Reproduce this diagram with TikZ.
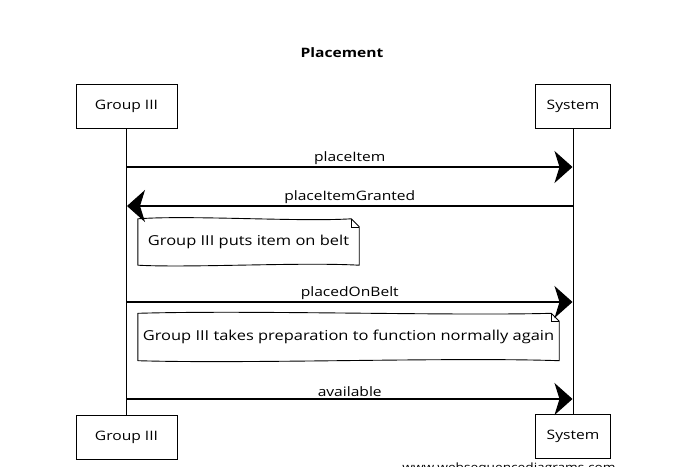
\documentclass[tikz,border=0pt]{standalone}
\usepackage{fontspec}
\setmainfont[FakeStretch=1.2]{Open Sans}
\usetikzlibrary{arrows.meta}
\begin{document}
\begin{tikzpicture}[x=1pt,y=-1pt,
  txt/.style={font=\fontsize{13}{15}\selectfont},
  actor/.style={txt, draw, line width=1pt, minimum height=44pt, inner sep=0pt},
  life/.style={line width=0.8pt},
  msg/.style={line width=1.1pt, -{Stealth[length=18pt,width=32pt,inset=5pt]}},
  lbl/.style={txt, above, inner sep=2pt},
  notetext/.style={font=\fontsize{13.7}{16}\selectfont, inner sep=0pt},
  noteline/.style={line width=0.9pt, line join=round}
]
\useasboundingbox (0,0) rectangle (679,466);

% title
\node[txt, font=\fontsize{13}{15}\selectfont\bfseries] (title) at (342,53) {Placement};

% actors
\node[actor, minimum width=101pt] (gt) at (126.5,106) {Group III};
\node[actor, minimum width=75pt]  (st) at (573,106) {System};
\node[actor, minimum width=101pt] (gb) at (126.5,437) {Group III};
\node[actor, minimum width=75pt]  (sb) at (573,436) {System};

% lifelines
\draw[life] (gt.south) -- (gb.north);
\draw[life] (st.south) -- (sb.north);

% message anchor points
\coordinate (g1) at (127,167);  \coordinate (s1) at (572.5,167);
\coordinate (g2) at (127,206);  \coordinate (s2) at (572.5,206);
\coordinate (g3) at (127,302);  \coordinate (s3) at (572.5,302);
\coordinate (g4) at (127,399);  \coordinate (s4) at (572.5,399);

\draw[msg] (g1) -- node[lbl] {placeItem} (s1);
\draw[msg] (s2) -- node[lbl] {placeItemGranted} (g2);
\draw[msg] (g3) -- node[lbl] {placedOnBelt} (s3);
\draw[msg] (g4) -- node[lbl] {available} (s4);

% note 1
\node[notetext, minimum width=221pt, minimum height=46pt] (n1) at (248.5,242) {Group III puts item on belt};
\draw[noteline] (n1.north west) .. controls (190,215) and (300,222) .. ([xshift=-8pt]n1.north east)
  -- ([yshift=-8pt]n1.north east) -- (n1.south east)
  .. controls (300,262) and (190,268) .. (n1.south west) -- cycle;
\draw[line width=0.6pt] ([xshift=-8pt]n1.north east) -- ([xshift=-8pt,yshift=-8pt]n1.north east) -- ([yshift=-8pt]n1.north east);

% note 2
\node[notetext, minimum width=421pt, minimum height=47pt] (n2) at (348.5,337) {Group III takes preparation to function normally again};
\draw[noteline] (n2.north west) .. controls (250,310) and (450,316) .. ([xshift=-8pt]n2.north east)
  -- ([yshift=-8pt]n2.north east) -- (n2.south east)
  .. controls (450,357) and (250,364) .. (n2.south west) -- cycle;
\draw[line width=0.6pt] ([xshift=-8pt]n2.north east) -- ([xshift=-8pt,yshift=-8pt]n2.north east) -- ([yshift=-8pt]n2.north east);

% watermark (cut off by the page edge, as in the reference)
\node[font=\fontsize{11.4}{13}\selectfont, anchor=base] (wm) at (509,471) {www.websequencediagrams.com};
\end{tikzpicture}
\end{document}
